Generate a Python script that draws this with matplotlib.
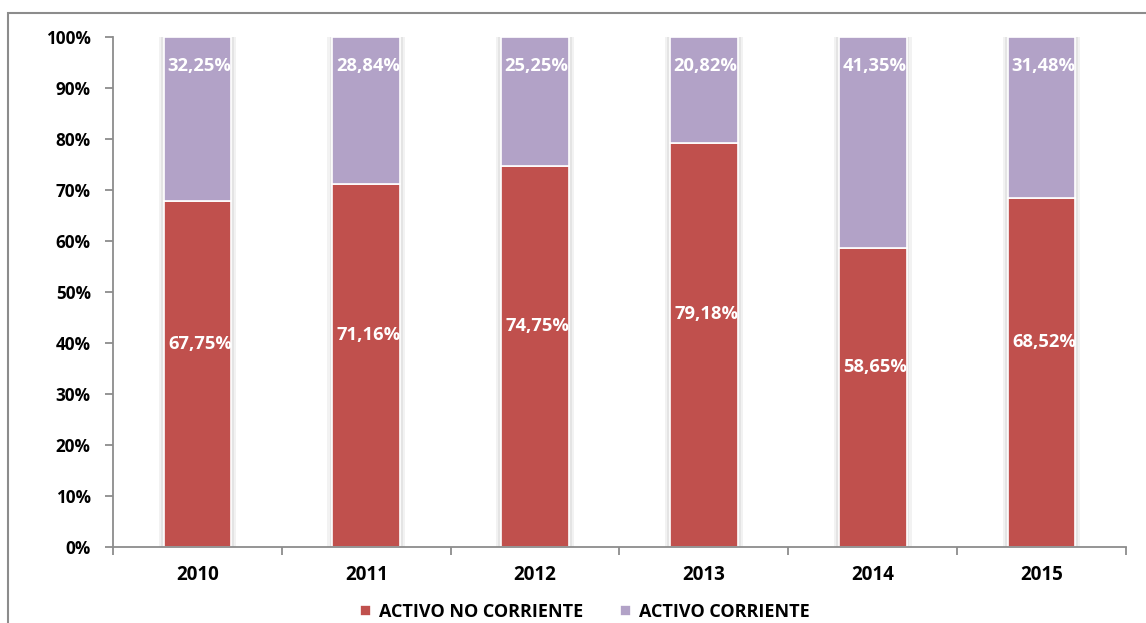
import matplotlib
matplotlib.use("Agg")
import matplotlib.pyplot as plt
from matplotlib.patches import Rectangle
from matplotlib.ticker import FixedLocator, PercentFormatter

years = ["2010", "2011", "2012", "2013", "2014", "2015"]
activo_no_corriente = [67.75, 71.16, 74.75, 79.18, 58.65, 68.52]
activo_corriente = [32.25, 28.84, 25.25, 20.82, 41.35, 31.48]
series_names = ["ACTIVO NO CORRIENTE", "ACTIVO CORRIENTE"]

RED = "#C0504D"
PURPLE = "#B2A2C7"
GRAY = "#8C8C8C"
FONT = "Open Sans"

W, H = 1146, 623
fig = plt.figure(figsize=(W / 100, H / 100), dpi=100)

# outer chart frame (right and bottom edges run off the canvas)
fig.patches.append(Rectangle((8 / W, -0.1), 1.2, 1 - 13 / H + 0.1,
                             transform=fig.transFigure, fill=False,
                             edgecolor=GRAY, linewidth=1.5))

ax = fig.add_axes([113 / W, 1 - 547 / H, (1126 - 113) / W, (547 - 37) / H])

x = list(range(len(years)))
width = 0.40

# soft shadow behind each bar
for w, c in [(width + 0.06, "#F2F2F2"), (width + 0.035, "#E4E4E4")]:
    ax.bar(x, [100] * len(x), width=w, color=c, linewidth=0, zorder=1)

ax.bar(x, activo_no_corriente, width=width, color=RED, edgecolor="white",
       linewidth=1.2, zorder=2, label=series_names[0])
ax.bar(x, activo_corriente, width=width, bottom=activo_no_corriente,
       color=PURPLE, edgecolor="white", linewidth=1.2, zorder=2,
       label=series_names[1])

fmt = lambda v: f"{v:.2f}%".replace(".", ",")
for xi, a, b in zip(x, activo_no_corriente, activo_corriente):
    ax.text(xi + 0.015, a / 2 + 6.0, fmt(a), ha="center", va="center",
            color="white", fontsize=13.2, fontweight="bold", family=FONT, zorder=3)
    ax.text(xi + 0.01, 100 - 5.6, fmt(b), ha="center", va="center",
            color="white", fontsize=13.2, fontweight="bold", family=FONT, zorder=3)

ax.set_xlim(-0.5, len(years) - 0.5)
ax.set_ylim(0, 100)
ax.set_yticks(range(0, 101, 10))
ax.yaxis.set_major_formatter(PercentFormatter(decimals=0))
ax.set_xticks(x)
ax.set_xticklabels(years)
ax.xaxis.set_minor_locator(FixedLocator([i - 0.5 for i in range(len(years) + 1)]))

for spine in ["top", "right"]:
    ax.spines[spine].set_visible(False)
for spine in ["left", "bottom"]:
    ax.spines[spine].set_color(GRAY)
    ax.spines[spine].set_linewidth(1.3)

ax.tick_params(axis="x", which="major", length=0, pad=13)
ax.tick_params(axis="x", which="minor", length=6, width=1.3, color=GRAY, direction="out")
ax.tick_params(axis="y", length=6, width=1.3, color=GRAY, direction="out", pad=10)
for lbl in ax.get_xticklabels():
    lbl.set_fontfamily(FONT)
    lbl.set_fontweight("bold")
    lbl.set_fontsize(13.5)
    lbl.set_color("black")
for lbl in ax.get_yticklabels():
    lbl.set_fontfamily(FONT)
    lbl.set_fontweight("bold")
    lbl.set_fontsize(12.3)
    lbl.set_color("black")

leg = fig.legend(loc="center", bbox_to_anchor=(585 / W, 1 - 612 / H), ncol=2,
                 frameon=False, handlelength=0.6, handleheight=0.6,
                 handletextpad=0.45, columnspacing=2.0,
                 prop={"family": FONT, "weight": "bold", "size": 13})

fig.savefig("out.png", dpi=100)
